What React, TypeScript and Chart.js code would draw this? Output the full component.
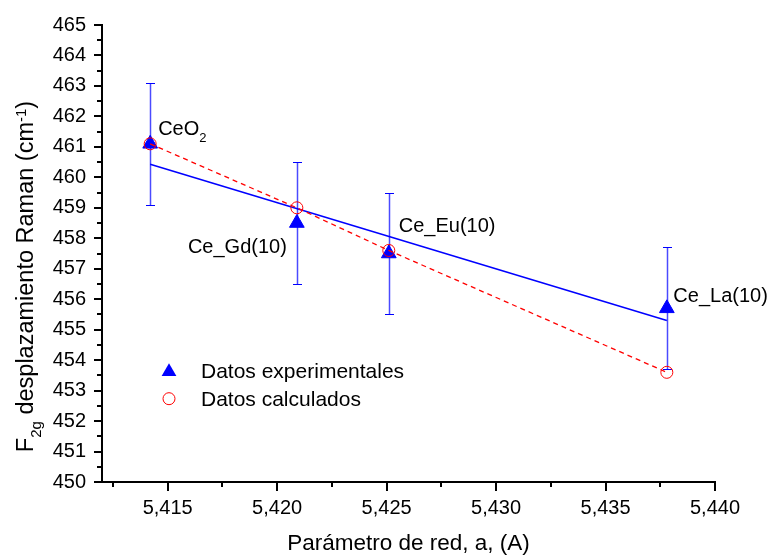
import React, { useEffect, useRef } from 'react';
import { Chart, registerables } from 'chart.js';

Chart.register(...registerables);

// ---------- data ----------
const sampleLabels = ['CeO₂', 'Ce_Gd(10)', 'Ce_Eu(10)', 'Ce_La(10)'];
const latticeParam = [5.4142, 5.4209, 5.4251, 5.4378];
const ramanExp = [461.1, 458.5, 457.5, 455.7];
const ramanErr = [2.0, 2.0, 2.0, 2.0];
const ramanCalc = [461.1, 459.0, 457.6, 453.6];
const fitLatticeParam = [5.4142, 5.4378];
const fitRaman = [460.43, 455.3];

const xTickValues = [5.415, 5.42, 5.425, 5.43, 5.435, 5.44];
const xTickLabels = ['5,415', '5,420', '5,425', '5,430', '5,435', '5,440'];
const xMinorTicks = [5.4125, 5.4175, 5.4225, 5.4275, 5.4325, 5.4375];
const yTickValues = [450, 451, 452, 453, 454, 455, 456, 457, 458, 459, 460, 461, 462, 463, 464, 465];
const yMinorTicks = [450.5, 451.5, 452.5, 453.5, 454.5, 455.5, 456.5, 457.5, 458.5, 459.5, 460.5, 461.5, 462.5, 463.5, 464.5];
const legendLabels = ['Datos experimentales', 'Datos calculados'];
const xAxisTitle = 'Parámetro de red, a, (A)';

const FONT = "'Liberation Sans', Arial, Helvetica, sans-serif";

type Seg = { text: string; size: number; dy: number };

function richWidth(ctx: CanvasRenderingContext2D, segs: Seg[]) {
  let w = 0;
  for (const s of segs) {
    ctx.font = `${s.size}px ${FONT}`;
    w += ctx.measureText(s.text).width;
  }
  return w;
}

function drawRich(ctx: CanvasRenderingContext2D, segs: Seg[], x: number, y: number, align: 'left' | 'center' | 'right') {
  const w = richWidth(ctx, segs);
  let cx = align === 'left' ? x : align === 'center' ? x - w / 2 : x - w;
  ctx.textAlign = 'left';
  ctx.textBaseline = 'alphabetic';
  for (const s of segs) {
    ctx.font = `${s.size}px ${FONT}`;
    ctx.fillText(s.text, cx, y + s.dy);
    cx += ctx.measureText(s.text).width;
  }
}

function labelSegs(label: string): Seg[] {
  const segs: Seg[] = [];
  let buf = '';
  for (const ch of label) {
    if (ch === '₂') {
      if (buf) segs.push({ text: buf, size: 20, dy: 0 });
      buf = '';
      segs.push({ text: '2', size: 13, dy: 7 });
    } else buf += ch;
  }
  if (buf) segs.push({ text: buf, size: 20, dy: 0 });
  return segs;
}

// label placement relative to the experimental point (dx, dy, align)
const labelPlacement: [number, number, 'left' | 'right'][] = [
  [8, -9, 'left'],
  [-10, 30, 'right'],
  [10, -21.5, 'left'],
  [6.5, -6, 'left'],
];

const decorPlugin = {
  id: 'decor',
  beforeDatasetsDraw(chart: any) {
    const ctx: CanvasRenderingContext2D = chart.ctx;
    const xs = chart.scales.x;
    const ys = chart.scales.y;
    ctx.save();
    // error bars
    for (let i = 0; i < latticeParam.length; i++) {
      const x = Math.round(xs.getPixelForValue(latticeParam[i])) + 0.5;
      const yt = Math.round(ys.getPixelForValue(ramanExp[i] + ramanErr[i])) + 0.5;
      const yb = Math.round(ys.getPixelForValue(ramanExp[i] - ramanErr[i])) + 0.5;
      ctx.strokeStyle = '#4a4aff';
      ctx.lineWidth = 1.5;
      ctx.beginPath();
      ctx.moveTo(x, yt);
      ctx.lineTo(x, yb);
      ctx.stroke();
      ctx.strokeStyle = '#0000ff';
      ctx.lineWidth = 1.2;
      ctx.beginPath();
      ctx.moveTo(x - 4.5, yt);
      ctx.lineTo(x + 4.5, yt);
      ctx.moveTo(x - 4.5, yb);
      ctx.lineTo(x + 4.5, yb);
      ctx.stroke();
    }
    ctx.restore();
  },
  afterDraw(chart: any) {
    const ctx: CanvasRenderingContext2D = chart.ctx;
    const xs = chart.scales.x;
    const ys = chart.scales.y;
    const area = chart.chartArea;
    ctx.save();
    // minor ticks
    ctx.strokeStyle = '#000';
    ctx.lineWidth = 2;
    ctx.beginPath();
    for (const v of xMinorTicks) {
      const x = Math.round(xs.getPixelForValue(v));
      ctx.moveTo(x, area.bottom);
      ctx.lineTo(x, area.bottom + 5);
    }
    for (const v of yMinorTicks) {
      const y = Math.round(ys.getPixelForValue(v));
      ctx.moveTo(area.left, y);
      ctx.lineTo(area.left - 5, y);
    }
    ctx.stroke();

    // point labels
    ctx.fillStyle = '#000';
    for (let i = 0; i < sampleLabels.length; i++) {
      const px = xs.getPixelForValue(latticeParam[i]);
      const py = ys.getPixelForValue(ramanExp[i]);
      const [dx, dy, al] = labelPlacement[i];
      drawRich(ctx, labelSegs(sampleLabels[i]), px + dx, py + dy, al);
    }

    // legend
    const lx = area.left + 67;
    const ly1 = area.top + 346.8;
    const ly2 = area.top + 373.7;
    const r = 8.5;
    ctx.fillStyle = '#0000ff';
    ctx.beginPath();
    let rad = 0;
    ctx.moveTo(lx + Math.sin(rad) * r, ly1 - Math.cos(rad) * r);
    rad += (2 * Math.PI) / 3;
    ctx.lineTo(lx + Math.sin(rad) * r, ly1 - Math.cos(rad) * r);
    rad += (2 * Math.PI) / 3;
    ctx.lineTo(lx + Math.sin(rad) * r, ly1 - Math.cos(rad) * r);
    ctx.closePath();
    ctx.fill();
    ctx.strokeStyle = '#ff0000';
    ctx.lineWidth = 1;
    ctx.beginPath();
    ctx.arc(lx, ly2, 6, 0, Math.PI * 2);
    ctx.stroke();
    ctx.fillStyle = '#000';
    ctx.font = `21px ${FONT}`;
    ctx.textAlign = 'left';
    ctx.textBaseline = 'alphabetic';
    ctx.fillText(legendLabels[0], lx + 32, area.top + 353);
    ctx.fillText(legendLabels[1], lx + 32, area.top + 381);

    // x axis title
    drawRich(ctx, [{ text: xAxisTitle, size: 22.5, dy: 0 }], (area.left + area.right) / 2, 550, 'center');

    // y axis title (rotated)
    ctx.translate(33, (area.top + area.bottom) / 2 + 23);
    ctx.rotate(-Math.PI / 2);
    drawRich(
      ctx,
      [
        { text: 'F', size: 23.5, dy: 0 },
        { text: '2g', size: 15, dy: 8 },
        { text: ' desplazamiento Raman (cm', size: 23.5, dy: 0 },
        { text: '-1', size: 15, dy: -7 },
        { text: ')', size: 23.5, dy: 0 },
      ],
      0,
      0,
      'center'
    );
    ctx.restore();
  },
};

export default function App() {
  const ref = useRef<HTMLCanvasElement>(null);
  useEffect(() => {
    document.body.style.margin = '0';
    const canvas = ref.current!;
    const chart = new Chart(canvas, {
      type: 'scatter',
      data: {
        datasets: [
          {
            label: 'fit',
            data: fitLatticeParam.map((x, i) => ({ x, y: fitRaman[i] })),
            showLine: true,
            borderColor: '#0000ff',
            borderWidth: 1.5,
            pointRadius: 0,
            order: 4,
          },
          {
            label: legendLabels[0],
            data: latticeParam.map((x, i) => ({ x, y: ramanExp[i] })),
            showLine: false,
            pointStyle: 'triangle',
            pointRadius: 8.5,
            pointBackgroundColor: '#0000ff',
            pointBorderColor: '#0000ff',
            pointBorderWidth: 1,
            order: 3,
          },
          {
            label: legendLabels[1],
            data: latticeParam.map((x, i) => ({ x, y: ramanCalc[i] })),
            showLine: true,
            borderColor: '#ff0000',
            borderWidth: 1.3,
            borderDash: [5, 4],
            pointStyle: 'circle',
            pointRadius: 6,
            pointBackgroundColor: 'rgba(0,0,0,0)',
            pointBorderColor: '#ff0000',
            pointBorderWidth: 1,
            order: 1,
          },
        ] as any,
      },
      options: {
        animation: false,
        responsive: false,
        maintainAspectRatio: false,
        layout: { padding: { left: 0, top: 25, right: 62, bottom: 0 } },
        plugins: { legend: { display: false }, tooltip: { enabled: false } },
        scales: {
          x: {
            type: 'linear',
            position: 'bottom',
            min: 5.412,
            max: 5.44,
            afterBuildTicks: (s: any) => {
              s.ticks = xTickValues.map((v) => ({ value: v }));
            },
            afterFit: (s: any) => {
              s.height = 75;
            },
            ticks: {
              callback: (v: any) => {
                const i = xTickValues.findIndex((t) => Math.abs(t - Number(v)) < 1e-7);
                return i >= 0 ? xTickLabels[i] : '';
              },
              font: { family: FONT, size: 20 },
              color: '#000',
              padding: 5,
              maxRotation: 0,
              autoSkip: false,
            },
            grid: { drawOnChartArea: false, drawTicks: true, tickLength: 9, color: '#000', lineWidth: 2 },
            border: { display: true, color: '#000', width: 2 },
          },
          y: {
            type: 'linear',
            position: 'left',
            min: 450,
            max: 465,
            afterBuildTicks: (s: any) => {
              s.ticks = yTickValues.map((v) => ({ value: v }));
            },
            afterFit: (s: any) => {
              s.width = 102;
            },
            ticks: {
              callback: (v: any) => String(v),
              font: { family: FONT, size: 20 },
              color: '#000',
              padding: 8,
              autoSkip: false,
            },
            grid: { drawOnChartArea: false, drawTicks: true, tickLength: 8, color: '#000', lineWidth: 2 },
            border: { display: true, color: '#000', width: 2 },
          },
        },
      } as any,
      plugins: [decorPlugin],
    });
    return () => chart.destroy();
  }, []);
  return (
    <div style={{ position: 'fixed', left: 0, top: 0, width: 777, height: 557, background: '#fff' }}>
      <canvas ref={ref} width={777} height={557} style={{ width: 777, height: 557, display: 'block' }} />
    </div>
  );
}
